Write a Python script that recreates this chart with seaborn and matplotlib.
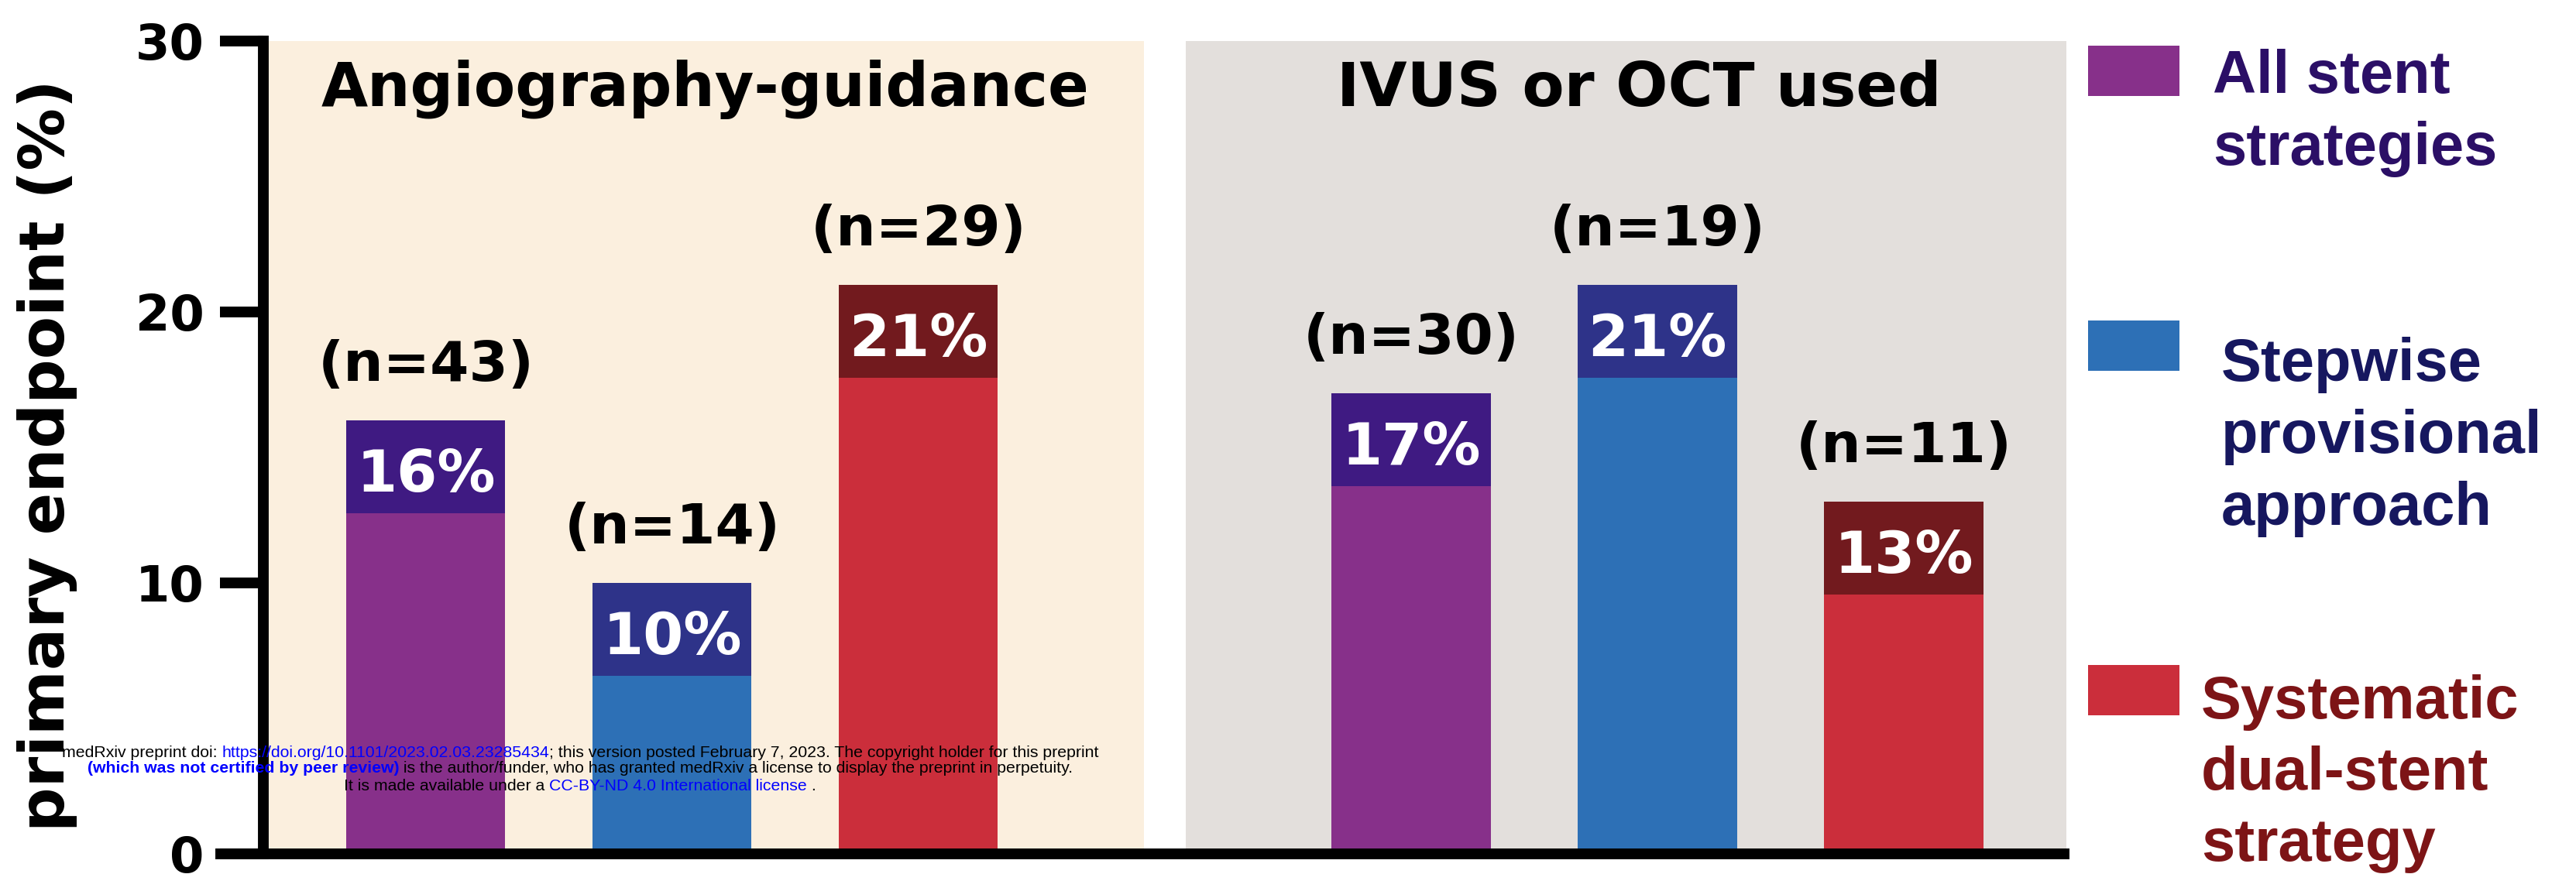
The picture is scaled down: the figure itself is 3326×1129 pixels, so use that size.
import matplotlib
matplotlib.use("Agg")
import matplotlib.pyplot as plt
from matplotlib.patches import Rectangle
import pandas as pd
import seaborn as sns

# ---------------- data ----------------
panels = ["Angiography-guidance", "IVUS or OCT used"]
strategies = ["All stent\nstrategies", "Stepwise\nprovisional\napproach", "Systematic\ndual-stent\nstrategy"]
angio_pct = [16, 10, 21]
angio_n = [43, 14, 29]
imaging_pct = [17, 21, 13]
imaging_n = [30, 19, 11]
yticks = [0, 10, 20, 30]
y_label = "primary endpoint (%)"

# ---------------- styles ----------------
bar_colors = ["#87308A", "#2D70B6", "#CB2E3B"]
box_colors = ["#3F1A82", "#2E3389", "#721A1E"]
legend_text_colors = ["#2B0F66", "#16175F", "#7D1416"]
panel_colors = ["#FBEFDE", "#E3DFDC"]
BOX_H = 3.43  # height of the dark label box (y units)

rows = []
for p_i, (pcts, ns) in enumerate([(angio_pct, angio_n), (imaging_pct, imaging_n)]):
    for s_i, (v, n) in enumerate(zip(pcts, ns)):
        rows.append(dict(panel=panels[p_i], strategy=strategies[s_i],
                         slot=p_i * 4 + s_i, pct=v, n=n))
df = pd.DataFrame(rows)
df["inner"] = df["pct"] - BOX_H

W, H = 3326, 1129
def fx(px):
    return px / W
def fy(py):
    return 1 - py / H

sns.set_theme(style="white")
fig = plt.figure(figsize=(W / 100, H / 100), dpi=100)
fig.patch.set_facecolor("white")

x_left, x_right = -0.66, 6.66
ax_l_px, ax_r_px = 340, 550 + 6.66 * 318
ax_t_px, ax_b_px = 53, 1103
ax = fig.add_axes([fx(ax_l_px), fy(ax_b_px), (ax_r_px - ax_l_px) / W, (ax_b_px - ax_t_px) / H])
ax.set_facecolor("white")

# panel backgrounds
ax.axvspan(x_left, 2.915, color=panel_colors[0], zorder=0, lw=0)
ax.axvspan(3.085, x_right, color=panel_colors[1], zorder=0, lw=0)

# dark boxes (full height) then lighter bars underneath the box
sns.barplot(data=df, x="slot", y="pct", hue="strategy", hue_order=strategies,
            palette=dict(zip(strategies, box_colors)), native_scale=True,
            dodge=False, width=0.645, saturation=1, errorbar=None,
            linewidth=0, legend=False, ax=ax, zorder=2)
sns.barplot(data=df, x="slot", y="inner", hue="strategy", hue_order=strategies,
            palette=dict(zip(strategies, bar_colors)), native_scale=True,
            dodge=False, width=0.645, saturation=1, errorbar=None,
            linewidth=0, legend=False, ax=ax, zorder=3)

# labels
for _, r in df.iterrows():
    ax.text(r["slot"], r["pct"] - 2.63, f"{r['pct']}%", ha="center", va="baseline",
            color="white", fontsize=54, fontweight="bold", family="DejaVu Sans", zorder=5)
    ax.text(r["slot"], r["pct"] + 1.45, f"(n={r['n']})", ha="center", va="baseline",
            color="black", fontsize=52, fontweight="bold", family="DejaVu Sans", zorder=5)

# panel titles
title_y = (1103 - 137) / 35
ax.text((911 - 550) / 318, title_y, panels[0], ha="center", va="baseline",
        fontsize=56, fontweight="bold", family="DejaVu Sans", color="black", zorder=5)
ax.text((2116 - 550) / 318, title_y, panels[1], ha="center", va="baseline",
        fontsize=57, fontweight="bold", family="DejaVu Sans", color="black", zorder=5)

# axes styling
ax.set_xlim(x_left, x_right)
ax.set_ylim(0, 30)
ax.set_xticks([])
ax.set_xlabel("")
ax.set_yticks(yticks)
ax.set_yticklabels([str(t) for t in yticks])
ax.tick_params(axis="y", length=40, width=10, direction="out", pad=15,
               labelsize=46, color="black", labelcolor="black", left=True)
for lab in ax.get_yticklabels():
    lab.set_fontweight("bold")
    lab.set_family("DejaVu Sans")
for side in ["top", "right"]:
    ax.spines[side].set_visible(False)
for side in ["left", "bottom"]:
    ax.spines[side].set_linewidth(10)
    ax.spines[side].set_color("black")
    ax.spines[side].set_zorder(6)
ax.spines["bottom"].set_bounds(x_left - 55 / 318, 6.65)
ax.spines["left"].set_bounds(0, 30)

ax.set_ylabel(y_label, fontsize=58, fontweight="bold", family="DejaVu Sans", color="black")
ax.yaxis.set_label_coords((100 - ax_l_px) / (ax_r_px - ax_l_px), (1103 - 588) / 1050)

# legend drawn as figure artists
legend_patch_y = [59, 414, 859]
legend_text_x = [2857, 2868, 2842]
legend_baselines = [[120, 213], [492, 585, 678], [928, 1020, 1112]]
for i, strat in enumerate(strategies):
    y0 = legend_patch_y[i]
    fig.patches.append(Rectangle((fx(2696), fy(y0 + 65)), 118 / W, 65 / H,
                                 transform=fig.transFigure, facecolor=bar_colors[i],
                                 edgecolor="none"))
    for line, b in zip(strat.split("\n"), legend_baselines[i]):
        fig.text(fx(legend_text_x[i]), fy(b), line, ha="left", va="baseline",
                 fontsize=56, fontweight="bold", family="Liberation Sans",
                 color=legend_text_colors[i])

# medRxiv watermark
wm_lines = [
    ([("medRxiv preprint doi: ", "black", "normal"),
      ("https://doi.org/10.1101/2023.02.03.23285434", "blue", "normal"),
      ("; this version posted February 7, 2023. The copyright holder for this preprint", "black", "normal")], 978),
    ([("(which was not certified by peer review)", "blue", "bold"),
      (" is the author/funder, who has granted medRxiv a license to display the preprint in perpetuity.", "black", "normal")], 998),
    ([("It is made available under a ", "black", "normal"),
      ("CC-BY-ND 4.0 International license", "blue", "normal"),
      (" .", "black", "normal")], 1021),
]
renderer = fig.canvas.get_renderer()
# size the notice so that its first line spans the same width as in the reference
probe = fig.text(0, 0, "".join(p[0] for p in wm_lines[0][0]), fontsize=14,
                 family="Liberation Sans")
wm_size = 14 * 1344 / probe.get_window_extent(renderer).width
probe.remove()
for pieces, base in wm_lines:
    texts = []
    for s, c, w in pieces:
        t = fig.text(0, fy(base), s, color=c, fontweight=w, fontsize=wm_size,
                     family="Liberation Sans", ha="left", va="baseline", zorder=10)
        texts.append(t)
    widths = [t.get_window_extent(renderer).width for t in texts]
    x = 749 - sum(widths) / 2
    for t, w in zip(texts, widths):
        t.set_x(fx(x))
        x += w

fig.savefig("out.png", dpi=100, facecolor="white")
